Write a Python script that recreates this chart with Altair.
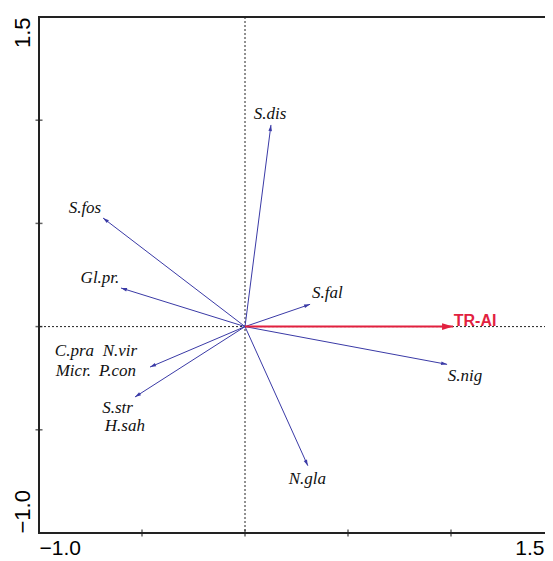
import altair as alt
import pandas as pd
import numpy as np

# species arrows (endpoint coordinates)
arrow_names = ["S.dis", "S.fos", "Gl.pr.", "S.fal", "S.nig", "N.gla", "C.pra/N.vir/Micr./P.con", "S.str/H.sah"]
arrow_x = [0.126, -0.689, -0.602, 0.316, 0.981, 0.305, -0.461, -0.534]
arrow_y = [0.977, 0.526, 0.187, 0.108, -0.183, -0.674, -0.196, -0.341]

# environmental arrow
env_name = ["TR-AI"]
env_x = [1.010]
env_y = [0.0]

# species labels
label_text = ["S.dis", "S.fos", "Gl.pr.", "S.fal", "S.nig", "N.gla",
              "C.pra", "N.vir", "Micr.", "P.con", "S.str", "H.sah"]
label_x = [0.122, -0.777, -0.704, 0.400, 1.068, 0.303,
           -0.828, -0.607, -0.833, -0.619, -0.619, -0.583]
label_y = [1.030, 0.574, 0.236, 0.163, -0.239, -0.738,
           -0.118, -0.118, -0.215, -0.215, -0.395, -0.482]

env_label_x = [1.117]
env_label_y = [0.027]

tick_values = [-0.5, 0.0, 0.5, 1.0]
axis_label_values = [-1.0, 1.5]
domain = [-1.0, 1.5]

def heading(dx, dy):
    return [float(np.degrees(np.arctan2(a, b)) % 360) for a, b in zip(dx, dy)]

arrows = pd.DataFrame({"name": arrow_names, "x": arrow_x, "y": arrow_y,
                       "x0": [0.0] * len(arrow_x), "y0": [0.0] * len(arrow_x),
                       "ang": heading(arrow_x, arrow_y)})
env = pd.DataFrame({"name": env_name, "x": env_x, "y": env_y,
                    "x0": [0.0], "y0": [0.0], "ang": heading(env_x, env_y)})
labels = pd.DataFrame({"t": label_text, "x": label_x, "y": label_y})
env_labels = pd.DataFrame({"t": env_name, "x": env_label_x, "y": env_label_y})
xticks = pd.DataFrame({"x": tick_values, "y": [domain[0]] * len(tick_values)})
yticks = pd.DataFrame({"x": [domain[0]] * len(tick_values), "y": tick_values})
zero = pd.DataFrame({"v": [0.0]})

xs = alt.Scale(domain=domain, nice=False, zero=False)
ys = alt.Scale(domain=domain, nice=False, zero=False)

xaxis = alt.Axis(values=axis_label_values, format=".1f", ticks=False,
                 tickSize=0, domain=False, grid=False, labelFontSize=21,
                 labelFont="Liberation Sans", labelColor="#000", labelPadding=4,
                 labelAlign=alt.condition("datum.value < 0", alt.value("left"), alt.value("right")),
                 labelOffset=alt.condition("datum.value < 0", alt.value(0), alt.value(-10)),
                 labelBaseline="top", title=None)
yaxis = alt.Axis(values=axis_label_values, format=".1f", ticks=False, tickSize=0,
                 domain=False, grid=False, labelFontSize=22, labelFont="Liberation Sans",
                 labelColor="#000", labelAngle=270, labelPadding=10,
                 labelAlign=alt.condition("datum.value < 0", alt.value("left"), alt.value("right")),
                 labelBaseline="alphabetic", title=None)

X = lambda f="x": alt.X(f"{f}:Q", scale=xs, axis=xaxis)
Y = lambda f="y": alt.Y(f"{f}:Q", scale=ys, axis=yaxis)

blue = "#3a3aa6"
red = "#e2213f"
head = "M0,0L-0.3,1L0.3,1Z"

vline = alt.Chart(zero).mark_rule(color="#222", strokeDash=[2, 2], strokeWidth=1).encode(x=alt.X("v:Q", scale=xs, axis=xaxis))
hline = alt.Chart(zero).mark_rule(color="#222", strokeDash=[2, 2], strokeWidth=1).encode(y=alt.Y("v:Q", scale=ys, axis=yaxis))

lines = alt.Chart(arrows).mark_rule(color=blue, strokeWidth=1).encode(
    x=X("x0"), y=Y("y0"), x2="x:Q", y2="y:Q")
heads = alt.Chart(arrows).mark_point(shape=head, filled=True, color=blue, size=144, opacity=1).encode(
    x=X(), y=Y(), angle=alt.Angle("ang:Q", scale=None))

env_line = alt.Chart(env).mark_rule(color=red, strokeWidth=2).encode(
    x=X("x0"), y=Y("y0"), x2="x:Q", y2="y:Q")
env_head = alt.Chart(env).mark_point(shape=head, filled=True, color=red, size=484, opacity=1).encode(
    x=X(), y=Y(), angle=alt.Angle("ang:Q", scale=None))

texts = alt.Chart(labels).mark_text(font="Liberation Serif", fontStyle="italic", fontSize=17,
                                    color="#111", align="center", baseline="middle").encode(
    x=X(), y=Y(), text="t:N")
env_text = alt.Chart(env_labels).mark_text(font="Liberation Sans", fontWeight="bold", fontSize=16,
                                           color=red, align="center", baseline="middle").encode(
    x=X(), y=Y(), text="t:N")

xt = alt.Chart(xticks).mark_tick(orient="vertical", size=7, thickness=1.5, color="#222").encode(x=X(), y=Y())
yt = alt.Chart(yticks).mark_tick(orient="horizontal", size=7, thickness=1.5, color="#222").encode(x=X(), y=Y())

chart = alt.layer(vline, hline, lines, heads, env_line, env_head, texts, env_text, xt, yt).properties(
    width=515, height=516,
    background="white",
    autosize=alt.AutoSizeParams(type="none"),
    padding={"left": 31, "top": 9, "right": -9, "bottom": 27},
).configure_view(stroke="#222", strokeWidth=2)

chart.save("out.html", embed_options={"renderer": "svg", "actions": False})
